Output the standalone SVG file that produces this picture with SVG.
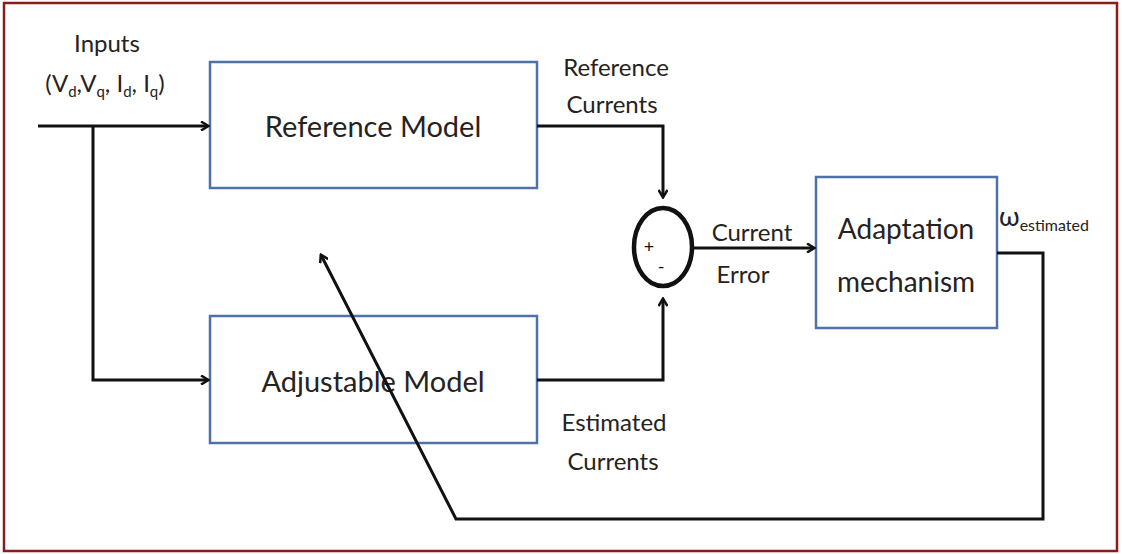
<svg xmlns="http://www.w3.org/2000/svg" width="1122" height="554" viewBox="0 0 1122 554">
<style>
.box{fill:#fff;stroke:#4f72a6;stroke-width:2.5}
.t{font-family:Lato,"Open Sans","Liberation Sans",sans-serif;fill:#262220;text-anchor:middle}
.s{text-anchor:start}
.c{fill:none;stroke:#111;stroke-width:3}
</style>
<defs>
<marker id="ah" markerWidth="10" markerHeight="10" refX="8" refY="5" orient="auto" markerUnits="userSpaceOnUse" viewBox="0 0 10 10">
<path d="M1,0.5 L8.5,5 L1,9.5" fill="none" stroke="#111" stroke-width="2.5"/>
</marker>
</defs>
<rect x="0" y="0" width="1122" height="554" fill="#fff"/>
<rect x="4" y="3" width="1113" height="548" fill="none" stroke="#8b1c1c" stroke-width="2.5"/>
<g id="inputs-label">
<text class="t" x="107" y="52" font-size="24">Inputs</text>
<text class="t" x="105" y="92" font-size="24">(V<tspan font-size="15" dy="5">d</tspan><tspan dy="-5">,V</tspan><tspan font-size="15" dy="5">q</tspan><tspan dy="-5">, I</tspan><tspan font-size="15" dy="5">d</tspan><tspan dy="-5">, I</tspan><tspan font-size="15" dy="5">q</tspan><tspan dy="-5">)</tspan></text>
</g>
<g id="reference-model">
<rect class="box" x="210" y="62" width="327" height="126"/>
<text class="t" x="373" y="137" font-size="29">Reference Model</text>
</g>
<g id="adjustable-model">
<rect class="box" x="210" y="316" width="327" height="127"/>
<text class="t" x="373" y="392" font-size="29">Adjustable Model</text>
</g>
<g id="sum">
<ellipse cx="663" cy="247" rx="29" ry="39" fill="#fff" stroke="#111" stroke-width="4.5"/>
<text class="t" x="649" y="253" font-size="18" style="fill:#111">+</text>
<text class="t" x="661" y="273" font-size="18" style="fill:#111">-</text>
</g>
<g id="adaptation">
<rect class="box" x="816" y="177" width="181" height="151"/>
<text class="t" x="906" y="239" font-size="28">Adaptation</text>
<text class="t" x="906" y="292" font-size="28">mechanism</text>
</g>
<g id="labels">
<text class="t" x="616" y="76" font-size="24">Reference</text>
<text class="t" x="612" y="113" font-size="24">Currents</text>
<text class="t" x="752" y="241" font-size="24">Current</text>
<text class="t" x="743" y="283" font-size="24">Error</text>
<text class="t" x="614" y="431" font-size="24">Estimated</text>
<text class="t" x="613" y="470" font-size="24">Currents</text>
<text class="t s" x="999" y="226" font-size="27">ω<tspan font-size="16" dy="5">estimated</tspan></text>
</g>
<g id="connectors">
<path class="c" d="M38,126 H208" marker-end="url(#ah)"/>
<path class="c" d="M93,126 V380 H208" marker-end="url(#ah)"/>
<path class="c" d="M537,126 H663 V197" marker-end="url(#ah)"/>
<path class="c" d="M537,380 H663 V299" marker-end="url(#ah)"/>
<path class="c" d="M693,248 H814" marker-end="url(#ah)"/>
<path class="c" d="M997,253 H1043 V519 H456 L321,255" marker-end="url(#ah)"/>
</g>
</svg>
